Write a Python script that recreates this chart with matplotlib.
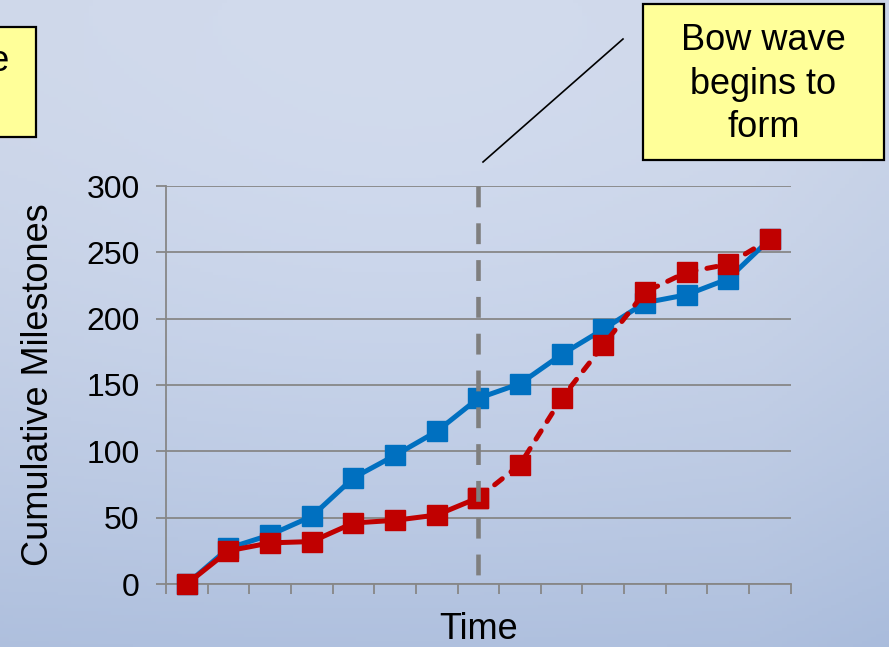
import numpy as np
import matplotlib
matplotlib.use("Agg")
import matplotlib.pyplot as plt
from matplotlib.patches import Rectangle
from matplotlib.lines import Line2D

plt.rcParams['font.family'] = ['Liberation Sans', 'DejaVu Sans']
plt.rcParams['lines.scale_dashes'] = False

# cumulative milestones per period
periods = list(range(15))
planned = [0, 27, 37, 51, 80, 97, 115, 140, 151, 173, 192, 212, 218, 230, 260]
actual = [0, 25, 31, 32, 46, 48, 52, 65, 90, 140, 180, 220, 235, 241, 260]
status_date = 7          # "today": actual values after this are a forecast
y_ticks = [0, 50, 100, 150, 200, 250, 300]

W, H = 889, 647
fig = plt.figure(figsize=(W / 100, H / 100), dpi=100)

# soft blue slide background
bg = fig.add_axes([0, 0, 1, 1], zorder=-10)
yy, xx = np.mgrid[0:1:200j, 0:1:200j]
top = np.array([206, 215, 233]) / 255
bottom = np.array([174, 191, 221]) / 255
t = yy ** 1.6
img = top[None, None, :] * (1 - t[..., None]) + bottom[None, None, :] * t[..., None]
glow = np.exp(-((xx - 0.45) / 0.45) ** 2 - ((yy - 0.35) / 0.6) ** 2) * 0.02
edge = np.clip(xx - 0.85, 0, None) * 0.12
img = np.clip(img + glow[..., None] - edge[..., None] * np.array([1.0, 0.7, 0.3]), 0, 1)
bg.imshow(img, extent=[0, 1, 0, 1], aspect='auto', origin='upper')
bg.axis('off')

ax = fig.add_axes([166 / W, (H - 584) / H, (790.7 - 166) / W, (584 - 186) / H])
ax.patch.set_alpha(0)
grey = '#878787'
lw, ms = 3.6, 14

ax.plot(periods, planned, color='#0070c0', lw=lw, marker='s', ms=ms,
        clip_on=False, zorder=3)
ax.plot(periods[:status_date + 1], actual[:status_date + 1], color='#c00000',
        lw=lw, marker='s', ms=ms, clip_on=False, zorder=4)
ax.plot(periods[status_date:], actual[status_date:], color='#c00000', lw=lw,
        marker='s', ms=ms, dashes=(7, 8), dash_capstyle='round',
        clip_on=False, zorder=4)
# status date marker, dashed from the top down
ax.plot([status_date, status_date], [300, 3], color='#7f7f7f', lw=3.3,
        dashes=(15, 11.5), zorder=5)

ax.set_xlim(-0.5, 14.5)
ax.set_ylim(0, 300)
ax.set_yticks(y_ticks)
ax.set_xticks(np.arange(-0.5, 15, 1))
ax.set_xticklabels([])
ax.yaxis.grid(True, color=grey, lw=1.3)
ax.set_axisbelow(True)
for s in ['top', 'right']:
    ax.spines[s].set_visible(False)
for s in ['left', 'bottom']:
    ax.spines[s].set_color(grey)
    ax.spines[s].set_linewidth(1.3)
ax.tick_params(axis='y', length=7, width=1.3, color=grey, labelsize=23, pad=12)
ax.tick_params(axis='x', length=7.5, width=1.3, color=grey)
ax.set_ylabel('Cumulative Milestones', fontsize=26, labelpad=22)
ax.set_xlabel('Time', fontsize=26, labelpad=9)

# callout boxes
fig.patches.append(Rectangle((643 / W, 1 - 160 / H), (884 - 643) / W, (160 - 4) / H,
                             transform=fig.transFigure, facecolor='#ffff99',
                             edgecolor='black', lw=1.6, zorder=6))
fig.text(763.5 / W, 1 - 84 / H, 'Bow wave\nbegins to\nform', fontsize=26,
         ha='center', va='center', linespacing=1.3, zorder=7)
fig.patches.append(Rectangle((-300 / W, 1 - 137 / H), 336 / W, (137 - 27) / H,
                             transform=fig.transFigure, facecolor='#ffff99',
                             edgecolor='black', lw=1.6, zorder=6))
fig.text(9 / W, 1 - 83 / H, 'Original baseline\nplan', fontsize=26,
         ha='right', va='center', multialignment='center', linespacing=1.3, zorder=7)
fig.lines.append(Line2D([623 / W, 483 / W], [1 - 39 / H, 1 - 162 / H],
                        transform=fig.transFigure, color='black', lw=1.2))

fig.savefig('out.png', dpi=100)
